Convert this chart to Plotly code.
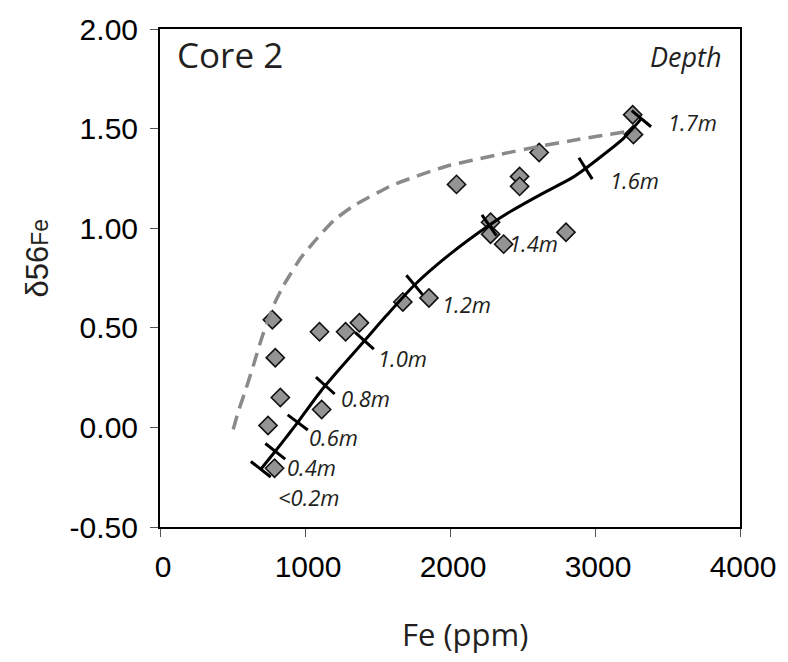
import plotly.graph_objects as go

# ---- data ----
fe_obs = [3260, 3265, 2615, 2480, 2480, 2045, 2280, 2280, 2370, 2800, 1855, 1675,
          1375, 1280, 1100, 775, 795, 830, 1115, 745, 790]
d56_obs = [1.57, 1.47, 1.38, 1.26, 1.21, 1.22, 1.03, 0.97, 0.92, 0.98, 0.65, 0.63,
           0.525, 0.48, 0.48, 0.54, 0.35, 0.15, 0.09, 0.01, -0.205]

fe_model = [695, 795, 870, 950, 1040, 1140, 1270, 1410, 1560, 1755, 2000, 2270,
            2420, 2640, 2835, 2935, 3195, 3320]
d56_model = [-0.21, -0.12, -0.05, 0.025, 0.115, 0.21, 0.32, 0.435, 0.56, 0.715, 0.87,
             1.015, 1.085, 1.175, 1.25, 1.30, 1.45, 1.55]

fe_dash = [505, 540, 580, 635, 700, 745, 795, 850, 900, 970, 1090, 1200, 1330,
           1600, 1970, 2340, 2610, 2880, 3220, 3280]
d56_dash = [-0.01, 0.08, 0.165, 0.29, 0.445, 0.54, 0.63, 0.71, 0.77, 0.85, 0.955,
            1.04, 1.11, 1.215, 1.31, 1.37, 1.41, 1.445, 1.485, 1.49]

depth_fe = [695, 795, 950, 1140, 1410, 1755, 2270, 2935, 3320]
depth_d56 = [-0.21, -0.12, 0.025, 0.21, 0.435, 0.715, 1.015, 1.30, 1.55]

depth_labels = ["<0.2m", "0.4m", "0.6m", "0.8m", "1.0m", "1.2m", "1.4m", "1.6m", "1.7m"]
label_fe = [800, 861, 1016, 1235, 1488, 1928, 2395, 3088, 3490]
label_d56 = [-0.35, -0.2, -0.05, 0.15, 0.35, 0.62, 0.925, 1.24, 1.535]

x_ticks = [0, 1000, 2000, 3000, 4000]
x_ticktext = ["0", "1000", "2000", "3000", "4000"]
y_ticks = [-0.5, 0.0, 0.5, 1.0, 1.5, 2.0]
y_ticktext = ["-0.50", "0.00", "0.50", "1.00", "1.50", "2.00"]

# style: tick-mark rotation (degrees) perpendicular to the curve
tick_angles = [-52, -52, -53, -48, -48, -40, -35, -32, -50]

TXT = "#231f20"

fig = go.Figure()

fig.add_trace(go.Scatter(
    x=fe_obs, y=d56_obs, mode="markers",
    marker=dict(symbol="diamond", size=14, color="#949494",
                line=dict(color="#111111", width=1.6)),
    showlegend=False, hoverinfo="skip"))

fig.add_trace(go.Scatter(
    x=fe_dash, y=d56_dash, mode="lines",
    line=dict(color="#8a8a8a", width=3.5, dash="14px,8px", shape="spline", smoothing=0.5),
    showlegend=False, hoverinfo="skip"))

fig.add_trace(go.Scatter(
    x=fe_model, y=d56_model, mode="lines",
    line=dict(color="#000000", width=3, shape="spline", smoothing=0.6),
    showlegend=False, hoverinfo="skip"))

fig.add_trace(go.Scatter(
    x=depth_fe, y=depth_d56, mode="markers",
    marker=dict(symbol="line-ns", size=18, angle=tick_angles,
                line=dict(color="#000000", width=3)),
    showlegend=False, hoverinfo="skip"))

annotations = []
for t, fx, fy in zip(depth_labels, label_fe, label_d56):
    annotations.append(dict(
        x=fx, y=fy, xref="x", yref="y", text=f"<i>{t}</i>", showarrow=False,
        xanchor="left", yanchor="middle",
        font=dict(family="Open Sans", size=22, color=TXT)))

annotations.append(dict(
    x=0.0255, y=0.948, xref="paper", yref="paper", text="Core 2", showarrow=False,
    xanchor="left", yanchor="middle", font=dict(family="Open Sans", size=35, color=TXT)))
annotations.append(dict(
    x=0.972, y=0.944, xref="paper", yref="paper", text="<i>Depth</i>", showarrow=False,
    xanchor="right", yanchor="middle", font=dict(family="Open Sans", size=27, color=TXT)))
annotations.append(dict(
    x=(470 - 160) / 589, y=(527 - 635) / 503, xref="paper", yref="paper",
    text="Fe (ppm)", showarrow=False, xanchor="center", yanchor="middle",
    font=dict(family="Open Sans", size=31, color=TXT)))
annotations.append(dict(
    x=(36 - 160) / 589, y=(527 - 255) / 503, xref="paper", yref="paper",
    text='δ56<span style="font-size:23px">Fe</span>', textangle=-90, showarrow=False,
    xanchor="center", yanchor="middle",
    font=dict(family="Liberation Sans", size=31, color=TXT)))

fig.update_layout(
    width=788, height=662, autosize=False,
    margin=dict(l=160, r=39, t=24, b=135),
    paper_bgcolor="white", plot_bgcolor="white",
    annotations=annotations,
    xaxis=dict(range=[0, 4000], tickvals=x_ticks, ticktext=x_ticktext,
               ticks="outside", ticklen=8, tickwidth=1, tickcolor="#555555",
               showline=True, linecolor="#000000", linewidth=2, mirror=True,
               showgrid=False, zeroline=False, ticklabelstandoff=4, ticklabelshift=3,
               ticklabeloverflow="allow",
               tickfont=dict(family="Liberation Sans", size=30, color="#000000")),
    yaxis=dict(range=[-0.5, 2.0], tickvals=y_ticks, ticktext=y_ticktext,
               ticks="outside", ticklen=8, tickwidth=1, tickcolor="#555555",
               showline=True, linecolor="#000000", linewidth=2, mirror=True,
               showgrid=False, zeroline=False, ticklabelstandoff=6,
               ticklabeloverflow="allow",
               tickfont=dict(family="Liberation Sans", size=30, color="#000000")),
)

fig.write_html("out.html", config={"displayModeBar": False},
               post_script="document.body.style.margin='0px';document.body.style.overflow='hidden';")
